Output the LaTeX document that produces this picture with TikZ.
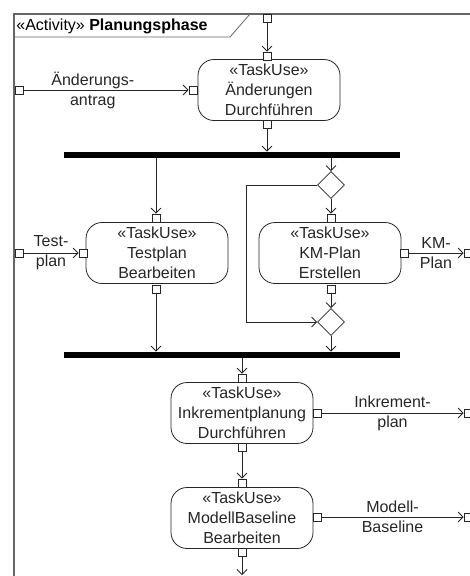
\documentclass[tikz,border=0pt]{standalone}
\usepackage{fontspec}
\setmainfont{Liberation Sans}
\usetikzlibrary{arrows.meta,positioning,shapes.geometric,calc}
\tikzset{>={Straight Barb[length=5pt,width=10pt]}}
\tikzset{
  action/.style={draw,rounded corners=16pt,minimum width=142pt,minimum height=61pt,
    align=center,inner sep=0pt,font=\fontsize{16}{20}\selectfont},
  pin/.style={draw,fill=white,minimum size=8pt,inner sep=0pt},
  bar/.style={fill=black,minimum width=336pt,minimum height=6pt,inner sep=0pt},
  decision/.style={draw,diamond,fill=white,minimum size=27pt,inner sep=0pt},
  lbl/.style={align=center,inner sep=0pt,font=\fontsize{16}{20}\selectfont}
}

\begin{document}
\begin{tikzpicture}[x=1pt,y=-1pt,line width=0.8pt,color=black!85]
\useasboundingbox (0,0) rectangle (470,576);
\clip (0,0) rectangle (470,576);

% frame
\draw[line width=1.6pt,black!60] (14,590) -- (14,14) -- (480,14);
\draw[black!60] (14,37) -- (230,37) -- (250,14);
\node [anchor=west,lbl,text=black] (title) at (16,26) {«Activity» \textbf{Planungsphase}};

% actions
\node [action] (aend) at (269,90) {«TaskUse»\\Änderungen\\Durchführen};
\node [action] (test) at (157,253) {«TaskUse»\\Testplan\\Bearbeiten};
\node [action] (km) at (330,253) {«TaskUse»\\KM-Plan\\Erstellen};
\node [action] (inkr) at (242,413) {«TaskUse»\\Inkrementplanung\\Durchführen};
\node [action] (modell) at (242,518) {«TaskUse»\\ModellBaseline\\Bearbeiten};

% pins
\node [pin] (ftop) at (267,18) {};
\node [pin] (fleft1) at (19,90) {};
\node [pin] (fleft2) at (19,253) {};
\node [pin] (fright1) at (468,253) {};
\node [pin] (fright2) at (468,413) {};
\node [pin] (fright3) at (468,517) {};
\coordinate (fbot) at (242,575);

\node [pin] (aend-top) at (267,56) {};
\node [pin] (aend-left) at (193,90) {};
\node [pin] (aend-bot) at (267,124) {};
\node [pin] (test-top) at (156,218) {};
\node [pin] (test-left) at (83,253) {};
\node [pin] (test-bot) at (156,289) {};
\node [pin] (km-top) at (331,218) {};
\node [pin] (km-right) at (404,253) {};
\node [pin] (km-bot) at (331,289) {};
\node [pin] (inkr-top) at (242,378) {};
\node [pin] (inkr-right) at (317,413) {};
\node [pin] (inkr-bot) at (242,447) {};
\node [pin] (modell-top) at (242,483) {};
\node [pin] (modell-right) at (317,517) {};
\node [pin] (modell-bot) at (242,552) {};

% fork / join and decisions
\node [bar] (fork) at (232,155) {};
\node [bar] (join) at (232,355) {};
\node [decision] (dec1) at (331,185) {};
\node [decision] (dec2) at (331,322) {};

\begin{scope}[shorten >= 0pt, shorten <= 0pt]
\draw[->] (ftop) -- (aend-top);
\draw[->] (fleft1) -- (aend-left) node [lbl,pos=0.42] {Änderungs-\\antrag};
\draw[->] (aend-bot) -- (aend-bot |- fork.north);
\draw[->] (fork.south -| test-top) -- (test-top);
\draw[->] (fork.south -| dec1) -- (dec1);
\draw[->] (dec1) -- (km-top);
\draw[->] (fleft2) -- (test-left) node [lbl,midway] {Test-\\plan};
\draw[->] (km-right) -- (fright1) node [lbl,midway] {KM-\\Plan};
\draw[->] (km-bot) -- (dec2);
\draw[->] (dec1.west) -- ++(-71,0) |- (dec2.west);
\draw[->] (dec2) -- (dec2 |- join.north);
\draw[->] (test-bot) -- (test-bot |- join.north);
\draw[->] (join.south -| inkr-top) -- (inkr-top);
\draw[->] (inkr-right) -- (fright2) node [lbl,midway] {Inkrement-\\plan};
\draw[->] (inkr-bot) -- (modell-top);
\draw[->] (modell-right) -- (fright3) node [lbl,midway] {Modell-\\Baseline};
\draw[->] (modell-bot) -- (fbot);
\end{scope}

\end{tikzpicture}
\end{document}
